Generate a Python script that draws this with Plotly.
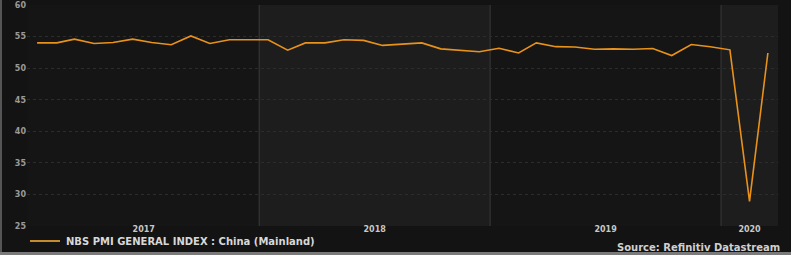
import pandas as pd
import plotly.graph_objects as go

# ---- data ----
months = pd.date_range("2017-01-01", periods=39, freq="MS") + pd.Timedelta(days=14)
pmi = [54.0, 54.0, 54.6, 53.9, 54.05, 54.6, 54.05, 53.7, 55.1, 53.9, 54.5, 54.5,
       54.5, 52.85, 54.0, 54.0, 54.5, 54.4, 53.6, 53.8, 54.0, 53.05, 52.8, 52.6,
       53.15, 52.4, 54.0, 53.4, 53.35, 53.0, 53.05, 53.0, 53.1, 52.0, 53.75, 53.4,
       52.9, 28.9, 52.4]
series_name = "NBS PMI GENERAL INDEX : China (Mainland)"
year_labels = ["2017", "2018", "2019", "2020"]
y_ticks = [25, 30, 35, 40, 45, 50, 55, 60]
source_text = "Source: Refinitiv Datastream"

x_start = pd.Timestamp("2016-12-30")
x_end = pd.Timestamp("2020-03-31")

FONT = "DejaVu Sans, Verdana, sans-serif"
LINE_COLOR = "#e8921c"

W, H = 791, 255
ML, MR, MT, MB = 27, 13, 5, 29
pw, ph = W - ML - MR, H - MT - MB


def px_x(p):  # picture pixel -> paper x
    return (p - ML) / pw


def px_y(p):  # picture pixel -> paper y
    return (H - MB - p) / ph


fig = go.Figure()
fig.add_trace(go.Scatter(
    x=months, y=pmi, mode="lines", name=series_name,
    line=dict(color=LINE_COLOR, width=1.6), showlegend=False,
))

# alternating year bands and separators
shapes = []
for i, yl in enumerate(year_labels):
    y0 = max(pd.Timestamp(f"{yl}-01-01"), x_start)
    y1 = min(pd.Timestamp(f"{int(yl)+1}-01-01"), x_end)
    shapes.append(dict(type="rect", xref="x", yref="paper", x0=y0, x1=y1, y0=0, y1=1,
                       fillcolor="#151515" if i % 2 == 0 else "#1d1d1d",
                       line=dict(width=0), layer="below"))
    if i > 0:
        shapes.append(dict(type="line", xref="x", yref="paper", x0=y0, x1=y0, y0=0, y1=1,
                           line=dict(color="#3a3a3a", width=1), layer="below"))

# thin light frame at the left and bottom edges of the picture
shapes.append(dict(type="line", xref="paper", yref="paper",
                   x0=px_x(1), x1=px_x(1), y0=px_y(H), y1=px_y(0),
                   line=dict(color="#555555", width=2)))
shapes.append(dict(type="line", xref="paper", yref="paper",
                   x0=px_x(0), x1=px_x(W), y0=px_y(253.5), y1=px_y(253.5),
                   line=dict(color="#7a7a7a", width=3)))

# legend key (drawn manually so margins stay fixed)
shapes.append(dict(type="line", xref="paper", yref="paper",
                   x0=px_x(30), x1=px_x(60), y0=px_y(241), y1=px_y(241),
                   line=dict(color="#c68b2c", width=2)))

tickvals = []
for yl in year_labels:
    a = max(pd.Timestamp(f"{yl}-01-01"), x_start)
    b = min(pd.Timestamp(f"{int(yl)+1}-01-01"), x_end)
    tickvals.append(a + (b - a) / 2)

fig.update_layout(
    width=W, height=H,
    margin=dict(l=ML, r=MR, t=MT, b=MB, autoexpand=False),
    paper_bgcolor="#131313",
    plot_bgcolor="#151515",
    shapes=shapes,
    font=dict(family=FONT, color="#cfcfcf"),
    showlegend=False,
    xaxis=dict(range=[x_start, x_end], tickvals=tickvals, ticktext=year_labels,
               showgrid=False, zeroline=False, showline=False, ticks="",
               ticklabelstandoff=-3,
               tickfont=dict(family=FONT, size=8, color="#c8c8c8", weight="bold")),
    yaxis=dict(range=[25, 60], tickvals=y_ticks, showgrid=True,
               gridcolor="#2c2c2c", griddash="dot", zeroline=False, showline=False,
               ticks="", ticklabeloverflow="allow",
               tickfont=dict(family=FONT, size=8, color="#9a9a9a", weight="bold")),
    annotations=[
        dict(text=series_name, xref="paper", yref="paper", x=px_x(64), y=px_y(241),
             xanchor="left", yanchor="middle", showarrow=False,
             font=dict(family=FONT, size=10, color="#d8d8d8", weight="bold")),
        dict(text=source_text, xref="paper", yref="paper", x=px_x(782), y=px_y(247),
             xanchor="right", yanchor="middle", showarrow=False,
             font=dict(family=FONT, size=10, color="#d0d0d0", weight="bold")),
    ],
)

fig.write_html("out.html")
